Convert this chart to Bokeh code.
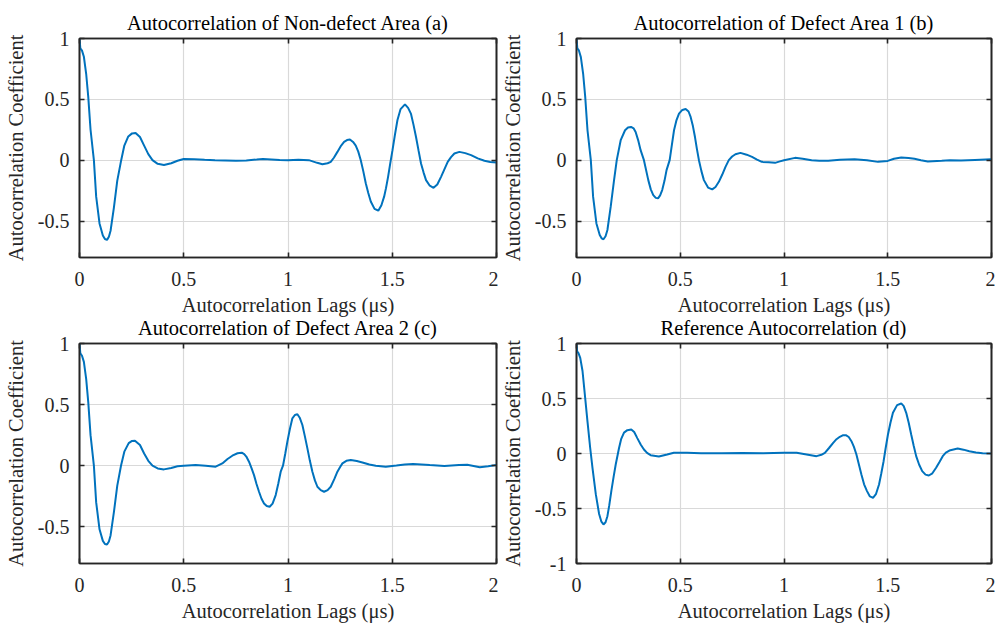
from bokeh.plotting import figure
from bokeh.models import Range1d, FixedTicker, LinearAxis
from bokeh.layouts import column, row
from bokeh.embed import file_html
from bokeh.resources import INLINE

# ---- data (lag in microseconds, autocorrelation coefficient) ----
titles = ["Autocorrelation of Non-defect Area (a)",
          "Autocorrelation of Defect Area 1 (b)",
          "Autocorrelation of Defect Area 2 (c)",
          "Reference Autocorrelation (d)"]
x_label = "Autocorrelation Lags (\u03bcs)"
y_label = "Autocorrelation Coefficient"
x_ticks = [0, 0.5, 1, 1.5, 2]
y_ticks_abc = [-0.5, 0, 0.5, 1]
y_ticks_d = [-1, -0.5, 0, 0.5, 1]
tick_text = {-1: "-1", -0.5: "-0.5", 0: "0", 0.5: "0.5", 1: "1", 1.5: "1.5", 2: "2"}

points_a = [(0, 1.0), (0.004, 0.92), (0.012, 0.90), (0.021, 0.85), (0.032, 0.71), (0.042, 0.52),
            (0.053, 0.25), (0.069, 0.0), (0.080, -0.30), (0.096, -0.52), (0.112, -0.62), (0.122, -0.648),
            (0.132, -0.655), (0.141, -0.63), (0.149, -0.58), (0.165, -0.39), (0.181, -0.17), (0.200, 0.0),
            (0.215, 0.12), (0.234, 0.195), (0.252, 0.22), (0.269, 0.224), (0.29, 0.19), (0.31, 0.12),
            (0.33, 0.05), (0.35, 0.0), (0.375, -0.03), (0.405, -0.04), (0.44, -0.025), (0.47, -0.005),
            (0.50, 0.01), (0.55, 0.008), (0.60, 0.003), (0.65, 0.0), (0.70, -0.002), (0.75, -0.004),
            (0.80, -0.002), (0.85, 0.005), (0.88, 0.01), (0.92, 0.006), (0.96, 0.002), (1.0, 0.0),
            (1.05, 0.003), (1.1, 0.0), (1.14, -0.022), (1.165, -0.033), (1.19, -0.025), (1.205, -0.014),
            (1.22, 0.02), (1.237, 0.068), (1.255, 0.12), (1.269, 0.15), (1.283, 0.165), (1.297, 0.17),
            (1.312, 0.15), (1.325, 0.12), (1.337, 0.07), (1.349, 0.0), (1.361, -0.09), (1.373, -0.19),
            (1.385, -0.27), (1.397, -0.34), (1.415, -0.40), (1.433, -0.415), (1.448, -0.37), (1.461, -0.30),
            (1.47, -0.23), (1.48, -0.137), (1.49, -0.03), (1.501, 0.08), (1.513, 0.21), (1.525, 0.33),
            (1.54, 0.42), (1.561, 0.459), (1.576, 0.43), (1.59, 0.38), (1.602, 0.29), (1.614, 0.19),
            (1.626, 0.08), (1.638, -0.027), (1.65, -0.10), (1.662, -0.164), (1.68, -0.21), (1.698, -0.227),
            (1.716, -0.2), (1.734, -0.137), (1.75, -0.075), (1.766, -0.014), (1.782, 0.025), (1.798, 0.055),
            (1.822, 0.068), (1.85, 0.058), (1.878, 0.041), (1.91, 0.015), (1.942, -0.005), (1.97, -0.015),
            (2.0, -0.02)]

points_b = [(0, 1.0), (0.004, 0.92), (0.012, 0.90), (0.021, 0.847), (0.032, 0.71), (0.042, 0.52),
            (0.053, 0.246), (0.069, 0.0), (0.080, -0.30), (0.096, -0.52), (0.112, -0.615), (0.121, -0.642),
            (0.130, -0.65), (0.140, -0.625), (0.149, -0.574), (0.165, -0.38), (0.181, -0.164), (0.194, 0.0),
            (0.213, 0.164), (0.234, 0.246), (0.248, 0.268), (0.263, 0.273), (0.275, 0.262), (0.285, 0.232),
            (0.297, 0.165), (0.309, 0.082), (0.325, 0.0), (0.346, -0.164), (0.358, -0.24), (0.370, -0.287),
            (0.382, -0.31), (0.393, -0.314), (0.403, -0.29), (0.413, -0.246), (0.424, -0.17), (0.434, -0.082),
            (0.449, 0.0), (0.46, 0.13), (0.47, 0.246), (0.482, 0.33), (0.494, 0.383), (0.51, 0.413),
            (0.526, 0.421), (0.54, 0.40), (0.55, 0.355), (0.561, 0.28), (0.571, 0.19), (0.58, 0.095),
            (0.59, 0.0), (0.602, -0.09), (0.614, -0.164), (0.634, -0.225), (0.654, -0.24), (0.67, -0.22),
            (0.686, -0.178), (0.702, -0.12), (0.718, -0.055), (0.734, 0.0), (0.75, 0.03), (0.766, 0.049),
            (0.79, 0.06), (0.82, 0.045), (0.846, 0.027), (0.87, 0.005), (0.893, -0.014), (0.926, -0.018),
            (0.957, -0.022), (0.98, -0.01), (1.0, 0.0), (1.053, 0.019), (1.09, 0.012), (1.133, 0.0),
            (1.17, -0.004), (1.213, -0.005), (1.27, 0.004), (1.34, 0.008), (1.40, 0.0), (1.453, -0.014),
            (1.5, -0.006), (1.53, 0.012), (1.565, 0.022), (1.6, 0.018), (1.629, 0.011), (1.66, 0.0),
            (1.693, -0.011), (1.76, -0.005), (1.80, 0.0), (1.853, -0.003), (1.92, 0.002), (2.0, 0.008)]

points_c = [(0, 1.0), (0.004, 0.92), (0.012, 0.90), (0.021, 0.85), (0.032, 0.71), (0.042, 0.52),
            (0.053, 0.25), (0.069, 0.0), (0.080, -0.30), (0.096, -0.52), (0.112, -0.615), (0.122, -0.64),
            (0.132, -0.645), (0.141, -0.62), (0.149, -0.57), (0.165, -0.38), (0.181, -0.165), (0.199, 0.0),
            (0.215, 0.115), (0.236, 0.185), (0.252, 0.203), (0.266, 0.205), (0.29, 0.17), (0.31, 0.10),
            (0.33, 0.04), (0.35, 0.0), (0.375, -0.022), (0.405, -0.03), (0.44, -0.018), (0.47, -0.005),
            (0.50, 0.0), (0.557, 0.005), (0.605, 0.0), (0.653, -0.008), (0.685, 0.019), (0.71, 0.055),
            (0.733, 0.082), (0.758, 0.102), (0.778, 0.107), (0.79, 0.095), (0.8, 0.075), (0.813, 0.033),
            (0.825, -0.02), (0.837, -0.077), (0.849, -0.15), (0.861, -0.213), (0.873, -0.27), (0.885, -0.309),
            (0.898, -0.33), (0.912, -0.336), (0.926, -0.31), (0.941, -0.24), (0.953, -0.15), (0.965, -0.049),
            (0.976, 0.0), (0.987, 0.1), (0.997, 0.197), (1.009, 0.3), (1.021, 0.388), (1.033, 0.415),
            (1.045, 0.421), (1.057, 0.39), (1.069, 0.333), (1.081, 0.24), (1.093, 0.142), (1.105, 0.04),
            (1.117, -0.049), (1.129, -0.12), (1.141, -0.172), (1.157, -0.2), (1.173, -0.213), (1.19, -0.2),
            (1.205, -0.172), (1.222, -0.11), (1.237, -0.049), (1.25, -0.01), (1.261, 0.019), (1.28, 0.04),
            (1.301, 0.046), (1.33, 0.038), (1.357, 0.027), (1.39, 0.01), (1.421, 0.0), (1.469, -0.008),
            (1.52, 0.002), (1.56, 0.01), (1.6, 0.015), (1.64, 0.01), (1.68, 0.005), (1.75, -0.003),
            (1.82, 0.005), (1.86, 0.008), (1.92, -0.012), (1.96, -0.005), (2.0, 0.005)]

points_d = [(0, 1.0), (0.003, 0.93), (0.01, 0.91), (0.018, 0.87), (0.029, 0.75), (0.04, 0.54),
            (0.053, 0.29), (0.066, 0.05), (0.077, -0.13), (0.093, -0.37), (0.109, -0.55), (0.12, -0.62),
            (0.13, -0.645), (0.14, -0.625), (0.149, -0.57), (0.158, -0.47), (0.168, -0.34), (0.179, -0.21),
            (0.189, -0.1), (0.205, 0.05), (0.215, 0.13), (0.229, 0.19), (0.245, 0.212), (0.264, 0.218),
            (0.278, 0.195), (0.293, 0.14), (0.31, 0.08), (0.325, 0.036), (0.34, 0.005), (0.357, -0.015),
            (0.397, -0.027), (0.437, -0.009), (0.469, 0.006), (0.533, 0.006), (0.6, 0.003), (0.7, 0.002),
            (0.8, 0.004), (0.9, 0.003), (1.0, 0.006), (1.061, 0.006), (1.109, -0.009), (1.157, -0.024),
            (1.18, -0.012), (1.197, 0.006), (1.217, 0.05), (1.237, 0.097), (1.253, 0.13), (1.269, 0.152),
            (1.283, 0.165), (1.298, 0.167), (1.312, 0.15), (1.325, 0.112), (1.337, 0.06), (1.349, -0.009),
            (1.361, -0.1), (1.373, -0.19), (1.386, -0.28), (1.4, -0.342), (1.414, -0.39), (1.429, -0.403),
            (1.443, -0.37), (1.458, -0.282), (1.469, -0.18), (1.48, -0.07), (1.49, 0.05), (1.501, 0.173),
            (1.513, 0.28), (1.525, 0.37), (1.545, 0.44), (1.565, 0.455), (1.577, 0.43), (1.589, 0.37),
            (1.601, 0.28), (1.613, 0.173), (1.625, 0.07), (1.637, -0.024), (1.651, -0.1), (1.666, -0.16),
            (1.682, -0.192), (1.698, -0.2), (1.715, -0.18), (1.733, -0.13), (1.75, -0.075), (1.765, -0.024),
            (1.78, 0.008), (1.797, 0.027), (1.837, 0.045), (1.865, 0.035), (1.893, 0.021), (1.925, 0.01),
            (1.957, 0.003), (2.0, 0.0)]

# ---- styling ----
FONT = "Liberation Serif"
AX = "#262626"
LINE = "#0072BD"
FS = "20.5px"
TFS = "20px"


def panel(title, pts, y_lo, y_ticks, width, height, bl, br, bt, bb, title_standoff, transparent=False):
    p = figure(width=width, height=height, x_range=Range1d(0, 2), y_range=Range1d(y_lo, 1),
               output_backend="svg", toolbar_location=None,
               min_border_left=bl, min_border_right=br, min_border_top=bt, min_border_bottom=bb)
    p.title.text = title
    p.title.align = "center"
    p.title.text_font = FONT
    p.title.text_font_size = FS
    p.title.text_font_style = "normal"
    p.title.text_color = "#000000"
    p.title.standoff = title_standoff

    xs = [q[0] for q in pts]
    ys = [q[1] for q in pts]
    p.line(xs, ys, line_color=LINE, line_width=2.0)

    p.xaxis.ticker = FixedTicker(ticks=x_ticks)
    p.yaxis.ticker = FixedTicker(ticks=y_ticks)
    p.xgrid.ticker = FixedTicker(ticks=x_ticks)
    p.ygrid.ticker = FixedTicker(ticks=y_ticks)
    p.grid.grid_line_color = "#d9d9d9"
    p.grid.grid_line_width = 1.2

    p.xaxis.axis_label = x_label
    p.yaxis.axis_label = y_label
    p.xaxis.major_label_overrides = {k: v for k, v in tick_text.items() if k in x_ticks}
    p.yaxis.major_label_overrides = {k: v for k, v in tick_text.items() if k in y_ticks}
    for ax in p.xaxis + p.yaxis:
        ax.major_label_text_font = FONT
        ax.major_label_text_font_style = "normal"
        ax.major_label_text_font_size = TFS
        ax.major_label_text_color = AX
        ax.axis_label_text_font = FONT
        ax.axis_label_text_font_size = FS
        ax.axis_label_text_font_style = "normal"
        ax.axis_label_text_color = AX
        ax.axis_line_color = AX
        ax.axis_line_width = 1.6
        ax.major_tick_line_color = AX
        ax.major_tick_line_width = 1.6
        ax.major_tick_in = 5
        ax.major_tick_out = 0
        ax.minor_tick_line_color = None
    p.xaxis.major_label_standoff = 14
    p.xaxis.axis_label_standoff = 5
    p.yaxis.major_label_standoff = 10
    p.yaxis.axis_label_standoff = 8

    # box ticks on top and right
    for loc, tk in (("above", x_ticks), ("right", y_ticks)):
        ax = LinearAxis(ticker=FixedTicker(ticks=tk),
                        major_label_overrides={t: "" for t in tk},
                        major_label_text_font_size="0px", major_label_standoff=0,
                        major_tick_in=5, major_tick_out=0,
                        major_tick_line_color=AX, major_tick_line_width=1.6,
                        minor_tick_line_color=None,
                        axis_line_color=AX, axis_line_width=1.6)
        p.add_layout(ax, loc)

    p.outline_line_color = AX
    p.outline_line_width = 1.6
    p.background_fill_color = "white"
    p.border_fill_color = "white"
    if transparent:
        p.border_fill_alpha = 0
    return p


pa = panel(titles[0], points_a, -0.8, y_ticks_abc, 498, 327, 79, 2, 38, 70, 9)
pb = panel(titles[1], points_b, -0.8, y_ticks_abc, 497, 327, 76, 4, 38, 70, 9)
pc = panel(titles[2], points_c, -0.8, y_ticks_abc, 498, 323, 79, 2, 40, 63, 10, transparent=True)
pd = panel(titles[3], points_d, -1.0, y_ticks_d, 497, 323, 76, 4, 40, 63, 10, transparent=True)

top_row = row(pa, pb)
bottom_row = row(pc, pd, margin=(-24, 0, 0, 0))
layout = column(top_row, bottom_row)

with open("out.html", "w") as f:
    f.write(file_html(layout, INLINE))
